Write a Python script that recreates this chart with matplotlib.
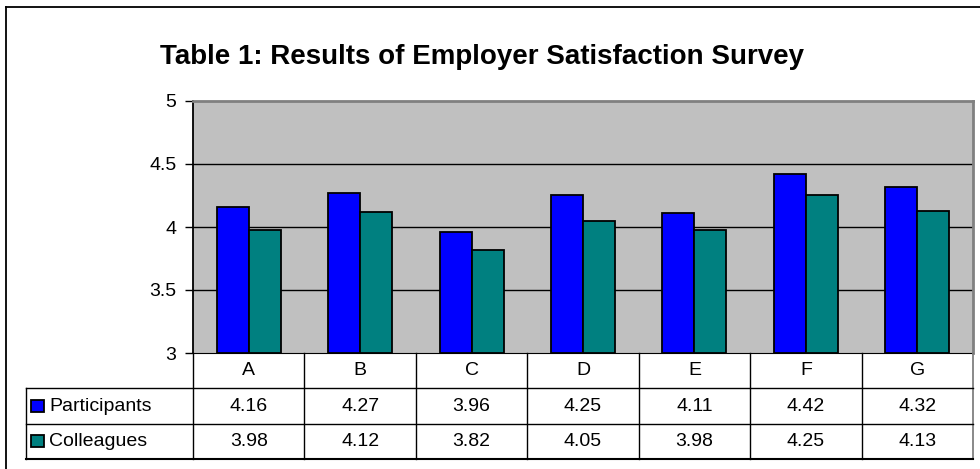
import numpy as np
import matplotlib.pyplot as plt

plt.rcParams['font.family'] = ['Liberation Sans', 'DejaVu Sans']

# survey data
categories = ['A', 'B', 'C', 'D', 'E', 'F', 'G']
participants = [4.16, 4.27, 3.96, 4.25, 4.11, 4.42, 4.32]
colleagues = [3.98, 4.12, 3.82, 4.05, 3.98, 4.25, 4.13]
series_names = ['Participants', 'Colleagues']
series_colors = ['#0000FF', '#008080']
yticks = [3, 3.5, 4, 4.5, 5]

W, H = 980, 469


def px_box(x0, y0, x1, y1):
    return [x0 / W, 1 - y1 / H, (x1 - x0) / W, (y1 - y0) / H]


fig = plt.figure(figsize=(W / 100, H / 100), dpi=100)

# outer frame (only left and top visible)
fig.add_artist(plt.Line2D([6 / W, 6 / W], [0, 1 - 7 / H], color='black', lw=1.3))
fig.add_artist(plt.Line2D([6 / W, 1], [1 - 7 / H, 1 - 7 / H], color='black', lw=1.3))

fig.text(482 / W, 1 - 57 / H, 'Table 1: Results of Employer Satisfaction Survey',
         ha='center', va='center', fontsize=20, fontweight='bold')

# bar chart
ax = fig.add_axes(px_box(193, 101, 973, 353))
ax.set_facecolor('#C0C0C0')
x = np.arange(len(categories))
bw = 0.287
data = [participants, colleagues]
for i, vals in enumerate(data):
    ax.bar(x + (i - 0.5) * bw, np.array(vals) - 3, bottom=3, width=bw,
           color=series_colors[i], edgecolor='black', linewidth=1.3, zorder=3)
ax.set_xlim(-0.5, len(categories) - 0.5)
ax.set_ylim(3, 5)
ax.set_yticks(yticks)
ax.set_yticklabels([f'{t:g}' for t in yticks], fontsize=14)
ax.set_xticks([])
for t in yticks[1:-1]:
    ax.axhline(t, color='black', lw=1, zorder=1)
ax.tick_params(axis='y', length=6, width=1, pad=6, direction='out')
ax.spines['left'].set_color('black')
ax.spines['left'].set_linewidth(1.3)
ax.spines['bottom'].set_color('black')
ax.spines['top'].set_color('#808080')
ax.spines['top'].set_linewidth(2)
ax.spines['right'].set_color('#808080')
ax.spines['right'].set_linewidth(2)

# data table under the chart
tax = fig.add_axes(px_box(193, 353, 973, 459))
tax.set_xlim(-0.5, len(categories) - 0.5)
tax.set_ylim(3, 0)
tax.axis('off')
n = len(categories)
# grid lines
for k in range(n + 1):
    col = '#808080' if k == n else 'black'
    tax.plot([k - 0.5, k - 0.5], [0, 3], color=col, lw=1.3 if k == n else 1, clip_on=False)
tax.plot([-2, -2], [1, 3], color='black', lw=1, clip_on=False)
for r in [1, 2]:
    tax.plot([-2, n - 0.5], [r, r], color='black', lw=1, clip_on=False)
tax.plot([-2, n - 0.5], [3, 3], color='black', lw=1.5, clip_on=False)

for j, c in enumerate(categories):
    tax.text(j, 0.5, c, ha='center', va='center', fontsize=14)
for i, vals in enumerate(data):
    for j, v in enumerate(vals):
        tax.text(j, i + 1.5, f'{v:.2f}', ha='center', va='center', fontsize=14)
    tax.add_patch(plt.Rectangle((-1.95, i + 1.5 - 0.17), 0.11, 0.34,
                                facecolor=series_colors[i], edgecolor='black',
                                lw=1.3, clip_on=False))
    tax.text(-1.79, i + 1.5, series_names[i], ha='left', va='center', fontsize=14,
             clip_on=False)

fig.savefig('out.png', dpi=100)
